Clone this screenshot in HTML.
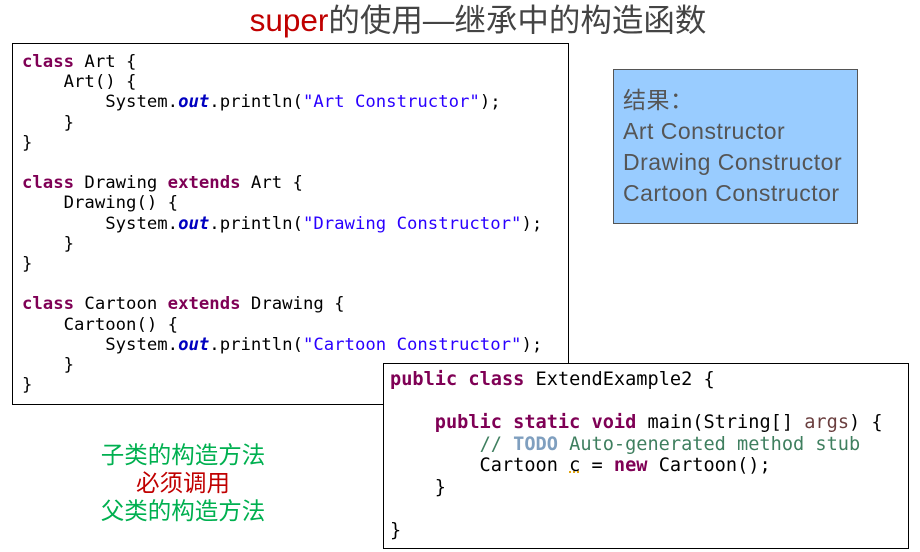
<!DOCTYPE html>
<html><head><meta charset="utf-8"><style>
body{margin:0;width:920px;height:552px;background:#fff;position:relative;overflow:hidden;font-family:"Liberation Sans","Noto Sans CJK SC",sans-serif}
.box{position:absolute;border:1px solid #000;background:#fff;box-sizing:border-box}
pre{margin:0;font-family:"DejaVu Sans Mono",monospace;color:#000;position:absolute}
.k{color:#7f0055;font-weight:bold}.s{color:#2a00ff}.f{color:#0000c0;font-weight:bold;font-style:italic}
.c{color:#3f7f5f}.t{color:#7f9fbf;font-weight:bold}.a{color:#6a3e3e}
.abs{position:absolute}
</style></head><body>
<div class="abs" style="left:0;width:956px;top:0px;text-align:center;font-size:31.5px;color:#444;line-height:40px"><span style="color:#c00000">super</span>的使用—继承中的构造函数</div>
<div class="box" style="left:12px;top:43px;width:557px;height:362px">
<pre style="left:9px;top:8px;font-size:17.3px;line-height:20.2px"><span class="k">class</span> Art {
    Art() {
        System.<span class="f">out</span>.println(<span class="s">"Art Constructor"</span>);
    }
}

<span class="k">class</span> Drawing <span class="k">extends</span> Art {
    Drawing() {
        System.<span class="f">out</span>.println(<span class="s">"Drawing Constructor"</span>);
    }
}

<span class="k">class</span> Cartoon <span class="k">extends</span> Drawing {
    Cartoon() {
        System.<span class="f">out</span>.println(<span class="s">"Cartoon Constructor"</span>);
    }
}</pre>
</div>
<div class="box" style="left:613px;top:69px;width:245px;height:155px;background:#99ccff;border-color:#555"></div>
<div class="abs" style="left:623px;top:85px;font-size:23px;letter-spacing:0.5px;line-height:31px;color:#555">结果：<br>Art Constructor<br>Drawing Constructor<br>Cartoon Constructor</div>
<div class="box" style="left:383px;top:363px;width:526px;height:186px">
<pre style="left:6px;top:5px;font-size:18.6px;line-height:21.5px"><span class="k">public</span> <span class="k">class</span> ExtendExample2 {

    <span class="k">public</span> <span class="k">static</span> <span class="k">void</span> main(String[] <span class="a">args</span>) {
        <span class="c">// </span><span class="t">TODO</span><span class="c"> Auto-generated method stub</span>
        Cartoon <span style="text-decoration:underline dotted #e0a000">c</span> = <span class="k">new</span> Cartoon();
    }

}</pre>
</div>
<div class="abs" style="left:63px;width:240px;top:441px;text-align:center;font-size:23.5px;line-height:28px;color:#00b050">子类的构造方法<br><span style="color:#c00000">必须调用</span><br>父类的构造方法</div>
</body></html>
